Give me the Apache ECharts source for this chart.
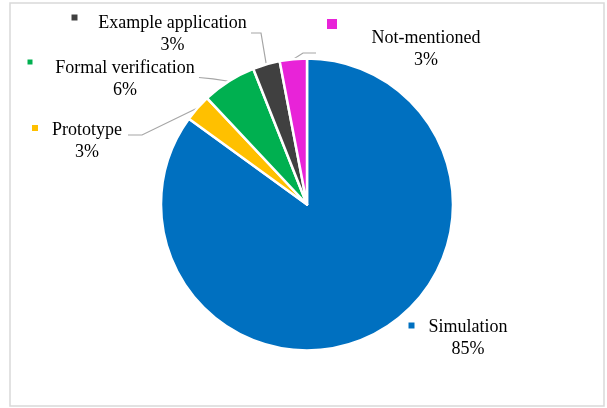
<!DOCTYPE html>
<html><head><meta charset="utf-8">
<script src="https://cdn.jsdelivr.net/npm/echarts@6/dist/echarts.min.js"></script>
<style>html,body{margin:0;padding:0;background:#fff}#c{width:607px;height:408px}</style>
</head><body><div id="c"></div>
<script>
// ---- data ----
const categories = ['Simulation', 'Prototype', 'Formal verification', 'Example application', 'Not-mentioned'];
const shares = [85, 3, 6, 3, 3];
const colors = ['#0070C0', '#FFC000', '#00B050', '#404040', '#E823D8'];

// ---- layout (positions only) ----
const CX = 307, CY = 204.5, R = 146;
const labelCenters = [[468, 338], [87, 141], [125, 79], [172.5, 34], [426, 49]];
const markerCenters = [[411.5, 325.5], [35, 128], [30, 62], [74.5, 17.5], [332, 24]];
const markerSizes = [6, 6, 5, 6, 10];
const guideBends = [null, [[142, 135], [128, 135]], [[213, 78.8], [199, 77.5]], [[261, 33], [251, 33]], [[303, 53], [316, 53]]];

const total = shares.reduce((a, b) => a + b, 0);
function midAngle(i) {
  let cum = 0;
  for (let k = 0; k < i; k++) cum += shares[k];
  return (cum + shares[i] / 2) / total * Math.PI * 2;
}

const FONT = { fontFamily: 'Liberation Serif', fontSize: 18, lineHeight: 22, color: '#000' };

const mainData = categories.map((name, i) => ({
  name, value: shares[i],
  itemStyle: { color: colors[i] },
  labelLine: { show: !!guideBends[i] }
}));
const markerData = categories.map((name, i) => ({
  name, value: shares[i],
  label: { rich: { m: { width: markerSizes[i], height: markerSizes[i], backgroundColor: colors[i] } } }
}));

const chart = echarts.init(document.getElementById('c'));
chart.setOption({
  animation: false,
  backgroundColor: '#fff',
  graphic: [{
    type: 'rect', silent: true, z: -10,
    shape: { x: 10, y: 3, width: 594, height: 403 },
    style: { fill: 'none', stroke: '#d9d9d9', lineWidth: 1.5 }
  }],
  series: [
    {
      type: 'pie',
      center: [CX, CY], radius: R,
      startAngle: 90, clockwise: true,
      avoidLabelOverlap: false,
      emphasis: { disabled: true },
      itemStyle: { borderColor: '#fff', borderWidth: 2.5 },
      label: {
        show: true,
        formatter: p => p.name + '\n' + p.value + '%',
        ...FONT,
        align: 'center'
      },
      labelLine: { show: true, length: 10, length2: 10, lineStyle: { color: '#a6a6a6', width: 1.2 } },
      labelLayout: function (p) {
        const i = p.dataIndex;
        const res = { x: labelCenters[i][0], y: labelCenters[i][1], align: 'center', verticalAlign: 'middle' };
        if (guideBends[i]) {
          const a = midAngle(i), r = R;
          res.labelLinePoints = [[CX + r * Math.sin(a), CY - r * Math.cos(a)], guideBends[i][0], guideBends[i][1]];
        }
        return res;
      },
      data: mainData
    },
    {
      type: 'pie',
      center: [CX, CY], radius: R,
      startAngle: 90, clockwise: true,
      silent: true,
      z: 3,
      avoidLabelOverlap: false,
      emphasis: { disabled: true },
      itemStyle: { color: 'rgba(0,0,0,0)', borderWidth: 0 },
      label: { show: true, formatter: '{m|}', color: '#000' },
      labelLine: { show: false },
      labelLayout: function (p) {
        const i = p.dataIndex;
        return { x: markerCenters[i][0], y: markerCenters[i][1], align: 'center', verticalAlign: 'middle' };
      },
      data: markerData
    }
  ]
});
</script>
</body></html>
